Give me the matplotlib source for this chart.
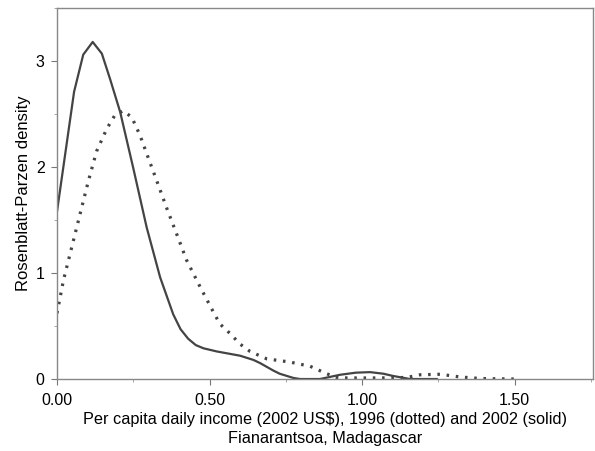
import numpy as np
import matplotlib
matplotlib.use("Agg")
import matplotlib.pyplot as plt
from matplotlib.ticker import MultipleLocator

plt.rcParams['font.family'] = ['Liberation Sans', 'DejaVu Sans']

# 2002 (solid) density
x_2002 = [0.0, 0.056, 0.086, 0.117, 0.147, 0.174, 0.207, 0.25, 0.294, 0.338, 0.381,
          0.405, 0.43, 0.455, 0.48, 0.524, 0.60, 0.644, 0.666, 0.709, 0.73, 0.775,
          0.797, 0.862, 0.928, 0.98, 1.026, 1.07, 1.10, 1.157, 1.245]
y_2002 = [1.58, 2.71, 3.06, 3.18, 3.07, 2.83, 2.52, 1.99, 1.43, 0.96, 0.61,
          0.47, 0.38, 0.32, 0.29, 0.26, 0.22, 0.18, 0.15, 0.08, 0.05, 0.01,
          0.0, 0.0, 0.04, 0.06, 0.065, 0.05, 0.03, 0.0, 0.0]

# 1996 (dotted) density
x_1996 = [0.0, 0.021, 0.048, 0.075, 0.103, 0.13, 0.163, 0.19, 0.217, 0.245, 0.272,
          0.30, 0.327, 0.36, 0.392, 0.425, 0.469, 0.513, 0.534, 0.567, 0.60, 0.633,
          0.688, 0.764, 0.83, 0.884, 0.917, 0.95, 1.0, 1.06, 1.147, 1.19, 1.256,
          1.32, 1.387, 1.45, 1.5]
y_1996 = [0.62, 0.93, 1.24, 1.55, 1.87, 2.15, 2.36, 2.49, 2.53, 2.47, 2.30,
          2.08, 1.87, 1.61, 1.37, 1.12, 0.87, 0.63, 0.52, 0.43, 0.33, 0.26,
          0.19, 0.16, 0.12, 0.05, 0.015, 0.01, 0.01, 0.01, 0.015, 0.04, 0.045,
          0.02, 0.005, 0.002, 0.0]

xticks = [0.0, 0.5, 1.0, 1.5]
xtick_labels = ['0.00', '0.50', '1.00', '1.50']
yticks = [0, 1, 2, 3]

fig = plt.figure(figsize=(5.95, 4.51), dpi=100)
ax = fig.add_axes([0.0958, 0.1596, 0.9008, 0.8226])

line_col = '#444444'
ax.plot(x_2002, y_2002, '-', color=line_col, lw=1.6)
ax.plot(x_1996, y_1996, color=line_col, lw=2.3, linestyle=(0, (0.8, 2.1)),
        dash_capstyle='butt')

ax.set_xlim(0, 1.757)
ax.set_ylim(0, 3.5)
ax.set_xticks(xticks)
ax.set_xticklabels(xtick_labels)
ax.set_yticks(yticks)
ax.xaxis.set_minor_locator(MultipleLocator(0.25))
ax.yaxis.set_minor_locator(MultipleLocator(0.5))
ax.tick_params(which='major', length=4, width=0.8, color='#777777', labelsize=11.5)
ax.tick_params(axis='x', which='major', pad=6)
ax.tick_params(axis='y', which='major', pad=5)
ax.tick_params(which='minor', length=2.5, width=0.6, color='#999999')
for s in ax.spines.values():
    s.set_color('#888888')
    s.set_linewidth(1.0)

ax.set_ylabel('Rosenblatt-Parzen density', fontsize=12, labelpad=3)
ax.set_xlabel('Per capita daily income (2002 US$), 1996 (dotted) and 2002 (solid)\n'
              'Fianarantsoa, Madagascar', fontsize=11.7, labelpad=3, linespacing=1.35)

fig.savefig('out.png', dpi=100)
